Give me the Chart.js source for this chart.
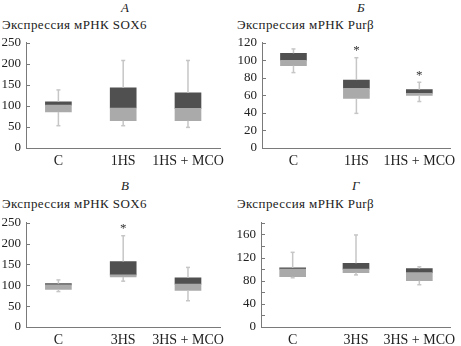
<!DOCTYPE html>
<html>
<head>
<meta charset="utf-8">
<script src="https://cdn.jsdelivr.net/npm/chart.js@4.4.0/dist/chart.umd.min.js"></script>
<style>
    body { margin: 0; background: #fff; }
    .page { position: relative; width: 461px; height: 346px; overflow: hidden; font-family: "Liberation Serif", serif; color: #222; }
    .panel-letter { position: absolute; font-style: italic; font-size: 13px; line-height: 13px; }
    .panel-title { position: absolute; font-size: 13px; line-height: 13px; letter-spacing: 0.4px; white-space: nowrap; }
    canvas { position: absolute; }
</style>
</head>
<body>
<div class="page">
    <div class="panel-letter" style="left:121px; top:1px;">А</div>
    <div class="panel-title" style="left:2px; top:18px;">Экспрессия мРНК SOX6</div>
    <div class="panel-letter" style="left:357px; top:1px;">Б</div>
    <div class="panel-title" style="left:237px; top:18px;">Экспрессия мРНК Purβ</div>
    <div class="panel-letter" style="left:121px; top:179px;">В</div>
    <div class="panel-title" style="left:2px; top:197px;">Экспрессия мРНК SOX6</div>
    <div class="panel-letter" style="left:352px; top:179px;">Г</div>
    <div class="panel-title" style="left:237px; top:197px;">Экспрессия мРНК Purβ</div>

    <canvas id="chartA" width="230" height="145" style="left:0; top:30px;"></canvas>
    <canvas id="chartB" width="231" height="145" style="left:230px; top:30px;"></canvas>
    <canvas id="chartV" width="230" height="144" style="left:0; top:210px;"></canvas>
    <canvas id="chartG" width="231" height="144" style="left:230px; top:210px;"></canvas>
</div>

<script>
// Groups
const groups1 = ['C', '1HS', '1HS + MCO'];
const groups3 = ['C', '3HS', '3HS + MCO'];

// A: SOX6, 1HS
const sox6MinA = [53, 53, 49];
const sox6Q1A = [86, 65, 65];
const sox6MedA = [102, 95, 94];
const sox6Q3A = [110, 143, 131];
const sox6MaxA = [138, 208, 208];
const starsA = [false, false, false];

// Б: Purβ, 1HS
const purMinB = [86, 39.5, 53];
const purQ1B = [94, 56.5, 60];
const purMedB = [100, 68, 62.5];
const purQ3B = [108, 77.5, 66.5];
const purMaxB = [113, 103, 75];
const starsB = [false, true, true];

// В: SOX6, 3HS
const sox6MinV = [85, 110, 63];
const sox6Q1V = [90, 120, 88];
const sox6MedV = [101, 125, 103];
const sox6Q3V = [104, 157, 118];
const sox6MaxV = [113, 219, 143];
const starsV = [false, true, false];

// Г: Purβ, 3HS
const purMinG = [85, 90, 73];
const purQ1G = [87, 94, 80];
const purMedG = [100, 100, 94];
const purQ3G = [102, 110, 101];
const purMaxG = [129, 159, 104];
const starsG = [false, false, false];

const darkGrey = '#505050';
const lightGrey = '#aaaaaa';
const whiskerGrey = '#c6c6c6';
const axisGrey = '#7a7a7a';
const textColor = '#222';

// whiskers, caps, asterisks and inward y ticks
const boxExtras = {
    id: 'boxExtras',
    afterDatasetsDraw(chart, args, opts) {
        const ctx = chart.ctx;
        const x = chart.scales.x;
        const y = chart.scales.y;
        ctx.save();
        ctx.strokeStyle = whiskerGrey;
        ctx.lineWidth = 1.5;
        opts.min.forEach((lo, i) => {
            const cx = x.getPixelForValue(i);
            const segs = [[lo, opts.q1[i]], [opts.q3[i], opts.max[i]]];
            segs.forEach(([a, b]) => {
                ctx.beginPath();
                ctx.moveTo(cx, y.getPixelForValue(a));
                ctx.lineTo(cx, y.getPixelForValue(b));
                ctx.stroke();
            });
            [lo, opts.max[i]].forEach(v => {
                const py = y.getPixelForValue(v);
                ctx.beginPath();
                ctx.moveTo(cx - 2, py);
                ctx.lineTo(cx + 2, py);
                ctx.stroke();
            });
            if (opts.stars[i]) {
                ctx.fillStyle = '#333';
                ctx.font = '13px "Liberation Serif", serif';
                ctx.textAlign = 'center';
                ctx.textBaseline = 'middle';
                ctx.fillText('*', cx, y.getPixelForValue(opts.max[i]) - 7);
            }
        });
        ctx.restore();
    },
    afterDraw(chart) {
        const ctx = chart.ctx;
        const y = chart.scales.y;
        ctx.save();
        ctx.strokeStyle = axisGrey;
        ctx.lineWidth = 1;
        y.ticks.forEach(t => {
            const py = Math.round(y.getPixelForValue(t.value)) + 0.5;
            ctx.beginPath();
            ctx.moveTo(y.right, py);
            ctx.lineTo(y.right + 4, py);
            ctx.stroke();
        });
        ctx.restore();
    }
};

function makeBoxChart(id, labels, mins, q1s, meds, q3s, maxs, stars, yMax, yStep, labelEvery, axisWidth, padRight) {
    const lower = q1s.map((q, i) => [q, meds[i]]);
    const upper = meds.map((m, i) => [m, q3s[i]]);
    return new Chart(document.getElementById(id), {
        type: 'bar',
        data: {
            labels: labels,
            datasets: [
                { data: lower, backgroundColor: lightGrey, grouped: false, barThickness: 26 },
                { data: upper, backgroundColor: darkGrey, grouped: false, barThickness: 26 }
            ]
        },
        options: {
            responsive: false,
            animation: false,
            layout: { padding: { top: 12, right: padRight, left: 0, bottom: 0 } },
            plugins: {
                legend: { display: false },
                tooltip: { enabled: false },
                boxExtras: { min: mins, q1: q1s, q3: q3s, max: maxs, stars: stars }
            },
            scales: {
                x: {
                    grid: { display: false, drawTicks: false },
                    border: { display: true, color: axisGrey, width: 1 },
                    ticks: {
                        color: textColor,
                        font: { family: '"Liberation Serif", serif', size: 14 },
                        padding: 5,
                        maxRotation: 0,
                        autoSkip: false
                    },
                    afterFit(scale) { scale.height = 27; }
                },
                y: {
                    min: 0,
                    max: yMax,
                    grid: { display: false, drawTicks: false },
                    border: { display: true, color: axisGrey, width: 1 },
                    ticks: {
                        stepSize: yStep,
                        autoSkip: false,
                        color: textColor,
                        padding: 5,
                        font: { family: '"Liberation Serif", serif', size: 13 },
                        callback: v => (v % labelEvery === 0 ? v : '')
                    },
                    afterFit(scale) { scale.width = axisWidth; }
                }
            }
        },
        plugins: [boxExtras]
    });
}

makeBoxChart('chartA', groups1, sox6MinA, sox6Q1A, sox6MedA, sox6Q3A, sox6MaxA, starsA, 250, 50, 50, 26, 7);
makeBoxChart('chartB', groups1, purMinB, purQ1B, purMedB, purQ3B, purMaxB, starsB, 120, 20, 20, 32, 5);
makeBoxChart('chartV', groups3, sox6MinV, sox6Q1V, sox6MedV, sox6Q3V, sox6MaxV, starsV, 250, 50, 50, 26, 7);
makeBoxChart('chartG', groups3, purMinG, purQ1G, purMedG, purQ3G, purMaxG, starsG, 180, 20, 40, 31, 5);
</script>
</body>
</html>
